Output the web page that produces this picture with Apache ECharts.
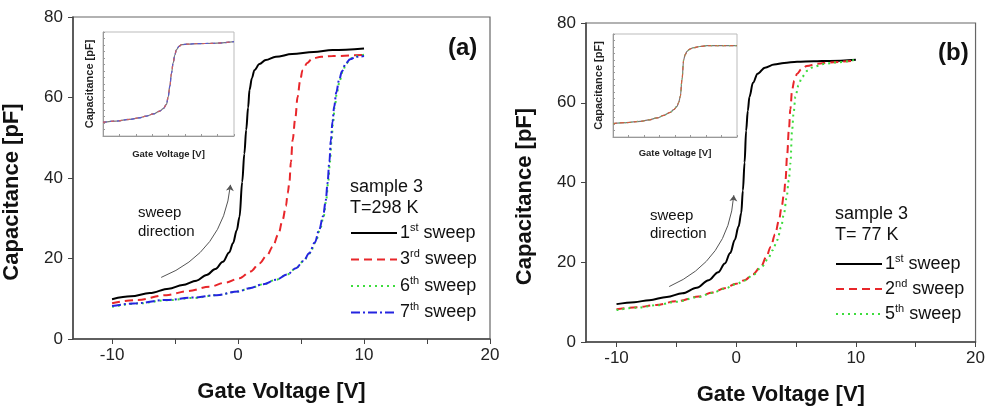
<!DOCTYPE html>
<html>
<head>
<meta charset="utf-8">
<script src="https://cdn.jsdelivr.net/npm/echarts@6/dist/echarts.min.js"></script>
<style>
  html, body { margin: 0; padding: 0; background: #fff; }
  #main { width: 988px; height: 412px; }
</style>
</head>
<body>
<div id="main"></div>
<script>
// panel (a): T = 298 K
var vA1 = [-10, -8.5, -7, -5.5, -4.4, -3.3, -2.5, -1.8, -1.2, -0.7, -0.4, -0.1, 0.12, 0.33, 0.5, 0.65, 0.8, 0.91, 1.1, 1.3, 1.7, 2.2, 3, 4.3, 6, 7.5, 10];
var cA1 = [9.9, 10.6, 11.4, 12.5, 13.4, 14.5, 15.9, 17.4, 19.2, 21.5, 23.8, 27, 30.4, 39, 46, 52, 57.5, 61.9, 64.8, 66.8, 68.3, 69.3, 70.1, 70.8, 71.3, 71.8, 72.2];
var vA3 = [-10, -8, -5.7, -4, -2.25, -1, 0.12, 1, 1.7, 2.3, 2.75, 3.2, 3.54, 3.8, 3.94, 4.07, 4.2, 4.33, 4.55, 4.73, 4.92, 5.12, 5.5, 5.9, 6.6, 7.5, 10];
var cA3 = [8.9, 9.7, 10.9, 11.9, 13, 14, 15.1, 16.8, 18.8, 20.8, 22.9, 26, 29.6, 33, 36.2, 38.7, 44, 49.4, 55, 60.2, 64, 66.8, 68.6, 69.7, 70.1, 70.3, 70.6];
var vA6 = [-10, -8, -5.7, -3.5, -1.7, 0, 0.9, 2, 3, 3.9, 4.6, 5.2, 5.7, 6.15, 6.5, 6.8, 7.0, 7.15, 7.3, 7.42, 7.55, 7.68, 7.85, 8.08, 8.3, 8.6, 8.95, 9.4, 10];
var cA6 = [8.0, 8.8, 9.6, 10.2, 10.9, 11.8, 12.6, 13.6, 14.7, 16, 17.6, 19.4, 21.3, 24, 27.1, 30.5, 34.5, 38.7, 44, 49.4, 54, 57.7, 61.3, 64.3, 66.5, 68.5, 69.7, 70.3, 70.6];
var vA7 = [-10, -8, -5.7, -3.5, -1.7, 0, 0.9, 2, 3, 3.9, 4.6, 5.2, 5.65, 6.1, 6.44, 6.75, 6.97, 7.1, 7.25, 7.37, 7.5, 7.63, 7.8, 8.02, 8.25, 8.55, 8.9, 9.34, 10];
var cA7 = [8.2, 8.9, 9.7, 10.3, 10.9, 11.8, 12.6, 13.6, 14.7, 16, 17.6, 19.4, 21.3, 24, 27.1, 30.5, 34.5, 38.7, 44, 49.4, 54, 57.7, 61.3, 64.3, 66.5, 68.5, 69.5, 70.1, 70.3];

// panel (b): T = 77 K
var vB1 = [-10, -8.5, -7.26, -5.8, -4.5, -3.3, -2.3, -1.5, -0.95, -0.5, -0.12, 0.2, 0.42, 0.56, 0.7, 0.83, 0.97, 1.11, 1.4, 1.79, 2.4, 3.17, 4, 5.09, 6.5, 7.83, 10];
var cB1 = [9.5, 10, 10.5, 11.3, 12.2, 13.6, 15.5, 17.5, 19.7, 22.3, 25.6, 29, 32.3, 38, 45, 53, 58, 61.5, 65, 67.3, 68.8, 69.6, 70, 70.3, 70.4, 70.5, 70.8];
var vB2 = [-10, -8.3, -6.7, -5, -3.14, -2, -0.95, 0, 0.7, 1.4, 2.07, 2.5, 2.89, 3.25, 3.58, 3.8, 4, 4.12, 4.26, 4.4, 4.53, 4.67, 4.85, 5.09, 5.45, 5.9, 6.8, 7.83, 9.75, 10];
var cB2 = [8.2, 8.7, 9.3, 10.2, 11.4, 12.4, 13.5, 14.6, 15.5, 17, 18.9, 21.2, 23.9, 27, 30.6, 34, 37.3, 40.6, 47, 53.1, 58.5, 63.2, 65.5, 67.3, 68.4, 69.2, 69.8, 70.1, 70.5, 70.6];
var vB5 = [-10, -8.3, -6.7, -5, -3.14, -2, -0.95, 0, 0.7, 1.4, 2.07, 2.62, 3.05, 3.44, 3.75, 4, 4.2, 4.4, 4.53, 4.67, 4.8, 4.95, 5.2, 5.5, 5.95, 6.46, 7.3, 8.3, 10];
var cB5 = [8.0, 8.6, 9.2, 10.1, 11.3, 12.3, 13.4, 14.5, 15.4, 16.8, 18.6, 20.6, 23, 25.6, 28.8, 32.3, 36, 40.6, 44.8, 53.1, 57.5, 61.5, 64.3, 66.5, 68, 69, 69.7, 70.1, 70.8];

// insets (arbitrary units)
var insetVA = [-10, -8, -5.9, -4.5, -3.37, -2.3, -1.33, -0.8, -0.31, -0.05, 0.2, 0.45, 0.71, 0.95, 1.22, 1.6, 2, 3, 4.3, 6.8, 10];
var insetCA = [10.5, 11.5, 12.8, 14, 15.3, 17, 19.2, 21, 24.3, 30, 38.3, 48, 56.2, 62, 66.5, 69, 70.3, 70.7, 71, 71.3, 72.6];
var insetVB = [-10, -7.8, -5.6, -4.2, -2.9, -1.8, -0.75, -0.2, 0.32, 0.6, 0.86, 1.13, 1.4, 1.65, 1.94, 2.4, 3, 4, 5.16, 7.5, 10];
var insetCB = [10.4, 11.2, 12.2, 13.3, 14.8, 16.8, 19.2, 21.2, 23.8, 27, 31.6, 44.5, 60, 64, 66.5, 68.3, 69.4, 70.3, 70.9, 70.9, 70.9];

// sweep direction arrows
var arrowA = [[-6.1, 15.3], [-0.6, 38.3]];
var arrowB = [[-5.6, 13.9], [-0.2, 36.8]];

var legendA = ['1st sweep', '3rd sweep', '6th sweep', '7th sweep'];
var legendB = ['1st sweep', '2nd sweep', '5th sweep'];
var xLabels = [-10, 0, 10, 20];
var xTicks = [-10, -5, 0, 5, 10, 15, 20];

function zip(xs, ys) {
  return xs.map(function (x, i) { return [x, ys[i]]; });
}

var FONT = 'Liberation Sans, Arial, Helvetica, sans-serif';
var RED = '#e8262a', GREEN = '#3ddc3d', BLUE = '#2424e0';

var chart = echarts.init(document.getElementById('main'));

function mainX(idx, min) {
  return {
    gridIndex: idx, type: 'value', min: min, max: 20,
    name: 'Gate Voltage [V]', nameLocation: 'middle', nameGap: 42,
    nameTextStyle: { fontFamily: FONT, fontSize: 22, fontWeight: 'bold', color: '#111' },
    axisLine: { onZero: false, lineStyle: { color: '#444', width: 1.5 } },
    axisTick: { customValues: xTicks, length: 5, lineStyle: { color: '#444' } },
    axisLabel: { customValues: xLabels, margin: 8, fontFamily: FONT, fontSize: 17, color: '#222' },
    splitLine: { show: false }
  };
}
function mainY(idx) {
  return {
    gridIndex: idx, type: 'value', min: 0, max: 80, interval: 20,
    name: 'Capacitance [pF]', nameLocation: 'middle', nameGap: 50,
    nameTextStyle: { fontFamily: FONT, fontSize: 22, fontWeight: 'bold', color: '#111', padding: [0, 28, 0, 0] },
    axisLine: { show: true, onZero: false, lineStyle: { color: '#444', width: 1.5 } },
    axisTick: { show: true, length: 5, lineStyle: { color: '#444' } },
    axisLabel: { margin: 10, fontFamily: FONT, fontSize: 17, color: '#222' },
    splitLine: { show: false }
  };
}
function insetX(idx, gap) {
  return {
    gridIndex: idx, type: 'value', min: -10, max: 10, interval: 2.5,
    name: 'Gate Voltage [V]', nameLocation: 'middle', nameGap: gap,
    nameTextStyle: { fontFamily: FONT, fontSize: 9.5, fontWeight: 'bold', color: '#222' },
    axisLine: { onZero: false, lineStyle: { color: '#999', width: 1 } },
    axisTick: { inside: true, length: 2, lineStyle: { color: '#999' } },
    axisLabel: { show: false }, splitLine: { show: false }
  };
}
function insetY(idx, gap) {
  return {
    gridIndex: idx, type: 'value', min: 0, max: 80, interval: 5,
    name: 'Capacitance [pF]', nameLocation: 'middle', nameGap: gap,
    nameTextStyle: { fontFamily: FONT, fontSize: 11, fontWeight: 'bold', color: '#222' },
    axisLine: { show: true, onZero: false, lineStyle: { color: '#999', width: 1 } },
    axisTick: { show: true, inside: true, length: 2, lineStyle: { color: '#999' } },
    axisLabel: { show: false }, splitLine: { show: false }
  };
}
function curve(name, xi, xs, ys, color, type, width) {
  return {
    name: name, type: 'line', xAxisIndex: xi, yAxisIndex: xi,
    data: zip(xs, ys), symbol: 'none', smooth: 0.35, smoothMonotone: 'x',
    lineStyle: { color: color, width: width || 2, type: type, cap: 'butt' },
    itemStyle: { color: color }, z: 3
  };
}
function arrow(xi, coords) {
  return {
    type: 'lines', coordinateSystem: 'cartesian2d', xAxisIndex: xi, yAxisIndex: xi,
    symbol: ['none', 'arrow'], symbolSize: 6, silent: true,
    lineStyle: { color: '#555', width: 1, curveness: -0.3, opacity: 1 },
    data: [{ coords: coords }], z: 2
  };
}
function legend(left, top, gap, names) {
  return {
    data: names, orient: 'vertical', left: left, top: top, padding: 0,
    itemWidth: 46, itemHeight: 14, itemGap: gap, selectedMode: false,
    itemStyle: { color: 'transparent', borderColor: 'transparent', borderWidth: 0, opacity: 0 },
    formatter: function (name) {
      var m = name.match(/^(\d)(\w\w)( sweep)$/);
      return '{n|' + m[1] + '}{s|' + m[2] + '}{n|' + m[3] + '}';
    },
    textStyle: {
      padding: [0, 0, 0, -2],
      rich: {
        n: { fontFamily: FONT, fontSize: 18, color: '#111', lineHeight: 22 },
        s: { fontFamily: FONT, fontSize: 11, color: '#111', lineHeight: 22, verticalAlign: 'top', padding: [0, 0, 8, 0] }
      }
    }
  };
}
function txt(x, y, s, size, bold) {
  return {
    type: 'text', left: x, top: y,
    style: { text: s, font: (bold ? 'bold ' : '') + size + 'px ' + FONT, fill: '#111' }
  };
}

var option = {
  animation: false,
  backgroundColor: '#fff',
  grid: [
    { left: 73, top: 17, width: 417, height: 322, show: true, borderColor: '#666', borderWidth: 1.2, backgroundColor: 'transparent' },
    { left: 586, top: 23, width: 394, height: 319, show: true, borderColor: '#666', borderWidth: 1.2, backgroundColor: 'transparent' },
    { left: 103, top: 32, width: 131, height: 104, show: true, borderColor: '#bbb', borderWidth: 1, backgroundColor: '#fff' },
    { left: 613, top: 34, width: 124, height: 103, show: true, borderColor: '#bbb', borderWidth: 1, backgroundColor: '#fff' }
  ],
  xAxis: [mainX(0, -13.1), mainX(1, -12.55), insetX(2, 13), insetX(3, 11)],
  yAxis: [mainY(0), mainY(1), insetY(2, 8), insetY(3, 9)],
  legend: [legend(350, 222, 6.5, legendA), legend(835, 253, 5, legendB)],
  graphic: [
    txt(448, 36, '(a)', 24, true),
    txt(938, 41, '(b)', 24, true),
    txt(350, 178, 'sample 3', 18),
    txt(350, 199, 'T=298 K', 18),
    txt(835, 205, 'sample 3', 18),
    txt(835, 226, 'T= 77 K', 18),
    txt(138, 205, 'sweep', 15),
    txt(138, 224, 'direction', 15),
    txt(650, 208, 'sweep', 15),
    txt(650, 226, 'direction', 15)
  ],
  series: [
    curve('1st sweep', 0, vA1, cA1, '#000', 'solid'),
    curve('3rd sweep', 0, vA3, cA3, RED, [8, 5]),
    curve('6th sweep', 0, vA6, cA6, GREEN, [2, 4]),
    curve('7th sweep', 0, vA7, cA7, BLUE, [9, 3, 2, 3]),
    arrow(0, arrowA),
    curve('1st sweep', 1, vB1, cB1, '#000', 'solid'),
    curve('2nd sweep', 1, vB2, cB2, RED, [8, 5]),
    curve('5th sweep', 1, vB5, cB5, GREEN, [2, 4]),
    arrow(1, arrowB),
    curve('inset a1', 2, insetVA, insetCA, '#777', 'solid', 1.2),
    curve('inset a2', 2, insetVA, insetCA, '#5a5ad0', [4, 3], 1.2),
    curve('inset a3', 2, insetVA, insetCA, '#d06060', [3, 5], 1.2),
    curve('inset b1', 3, insetVB, insetCB, '#777', 'solid', 1.2),
    curve('inset b2', 3, insetVB, insetCB, '#d06040', [4, 3], 1.2),
    curve('inset b3', 3, insetVB, insetCB, '#70c070', [1, 5], 1.2)
  ]
};

chart.setOption(option);
</script>
</body>
</html>
